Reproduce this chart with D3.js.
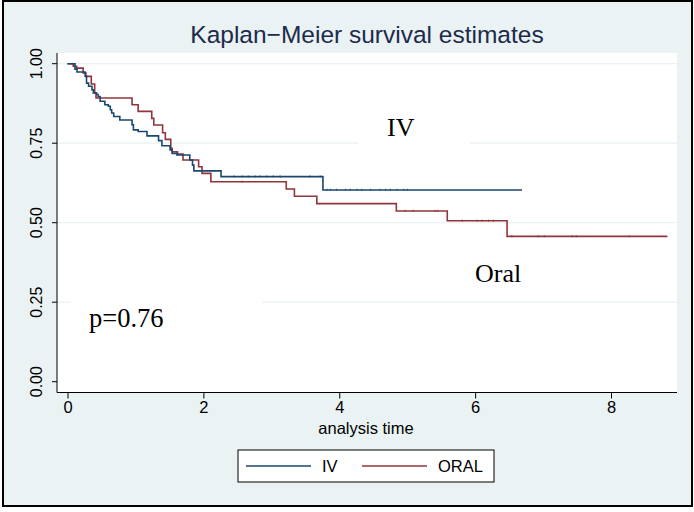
<!DOCTYPE html>
<html>
<head>
<meta charset="utf-8">
<title>Kaplan-Meier</title>
<script src="https://cdn.jsdelivr.net/npm/d3@7"></script>
<style>
  body { margin: 0; background: #fff; }
</style>
</head>
<body>
<svg width="694" height="512"></svg>
<script>
// step drop times and survival after each drop
var ivTimes = [0.11, 0.14, 0.26, 0.28, 0.31, 0.36, 0.38, 0.43, 0.45, 0.48, 0.55, 0.60, 0.63, 0.65, 0.68, 0.77, 0.95, 0.97, 1.04, 1.17, 1.34, 1.39, 1.51, 1.54, 1.61, 1.80, 1.84, 1.86, 2.26, 3.76]
var ivSurv  = [0.983, 0.974, 0.961, 0.939, 0.929, 0.918, 0.908, 0.903, 0.897, 0.882, 0.871, 0.866, 0.855, 0.845, 0.834, 0.823, 0.808, 0.792, 0.787, 0.773, 0.758, 0.742, 0.729, 0.718, 0.713, 0.697, 0.681, 0.663, 0.645, 0.603]
var ivEnd = 6.69
var ivCensor = [2.45, 2.57, 2.66, 2.76, 2.83, 2.93, 3.03, 3.13, 3.57, 3.72, 3.82, 3.87, 3.96, 4.09, 4.16, 4.26, 4.33, 4.46, 4.60, 4.68, 4.75, 4.85, 4.95, 5.00]

var oralTimes = [0.085, 0.135, 0.23, 0.27, 0.35, 0.40, 0.42, 0.95, 1.04, 1.24, 1.27, 1.40, 1.44, 1.52, 1.54, 1.62, 1.70, 1.93, 1.98, 2.11, 3.22, 3.34, 3.67, 4.84, 5.59, 6.47]
var oralSurv  = [0.992, 0.986, 0.971, 0.960, 0.936, 0.908, 0.892, 0.871, 0.850, 0.828, 0.807, 0.783, 0.762, 0.734, 0.723, 0.716, 0.697, 0.676, 0.655, 0.629, 0.606, 0.583, 0.560, 0.537, 0.506, 0.457]
var oralEnd = 8.83
var oralCensor = [2.57, 4.97, 5.09, 5.41, 5.45, 5.81, 6.03, 6.10, 6.20, 6.27, 6.54, 6.93, 7.02, 7.43, 7.49, 8.27]

var xTicks = [0, 2, 4, 6, 8]
var yTicks = [0, 0.25, 0.5, 0.75, 1]
var gridTicks = [0.25, 0.5, 0.75, 1]

var navy = "#1a476f", maroon = "#90353b"
var sans = "Liberation Sans, Arial, Helvetica, sans-serif"
var serif = "Liberation Serif, Times New Roman, serif"

var svg = d3.select("svg")

// graph region
svg.append("rect")
  .attr("x", 3).attr("y", 1).attr("width", 689).attr("height", 505)
  .attr("fill", "#eaf2f3").attr("stroke", "#000").attr("stroke-width", 2)

// plot region
var plot = {left: 57, top: 53, right: 677, bottom: 392.5}
svg.append("rect")
  .attr("x", plot.left).attr("y", plot.top)
  .attr("width", plot.right - plot.left).attr("height", plot.bottom - plot.top)
  .attr("fill", "#fff")

var x = d3.scaleLinear().domain([0, 8]).range([67.5, 611])
var y = d3.scaleLinear().domain([0, 1]).range([381.7, 63.7])

// gridlines
svg.append("g").selectAll("line")
  .data(gridTicks).enter().append("line")
  .attr("x1", plot.left).attr("x2", plot.right)
  .attr("y1", function(d){ return y(d) }).attr("y2", function(d){ return y(d) })
  .attr("stroke", "#eaf2f3").attr("stroke-width", 1.2)

// white boxes behind the text labels
svg.append("rect").attr("x", 358).attr("y", 108).attr("width", 112).attr("height", 40).attr("fill", "#fff")
svg.append("rect").attr("x", 70).attr("y", 296).attr("width", 192).attr("height", 40).attr("fill", "#fff")

// axes
var xAxis = d3.axisBottom(x).tickValues(xTicks).tickSize(6).tickPadding(3).tickFormat(d3.format("d"))
var gx = svg.append("g").attr("transform", "translate(0," + plot.bottom + ")").call(xAxis)
gx.select(".domain").attr("d", "M" + plot.left + ",0H" + plot.right)
gx.attr("font-size", 16.5).attr("font-family", sans)
gx.selectAll("text").attr("fill", "#000")

var yAxis = d3.axisLeft(y).tickValues(yTicks).tickSize(5).tickFormat(d3.format(".2f"))
var gy = svg.append("g").attr("transform", "translate(" + plot.left + ",0)").call(yAxis)
gy.select(".domain").attr("d", "M0," + plot.top + "V" + plot.bottom)
gy.attr("font-size", 16).attr("font-family", sans)
gy.selectAll("text")
  .attr("fill", "#000")
  .attr("x", null).attr("dy", null)
  .attr("text-anchor", "middle")
  .attr("transform", function(d){ return "translate(-15.5," + y(d) + ") rotate(-90)" })
  .attr("y", 0)
gy.selectAll(".tick").attr("transform", "translate(0,0)")
gy.selectAll(".tick line").attr("y1", function(d){ return y(d) }).attr("y2", function(d){ return y(d) })

// survival curves
function steps(times, surv, end) {
  var pts = [[0, 1]]
  times.forEach(function(t, i){ pts.push([t, surv[i]]) })
  pts.push([end, surv[surv.length - 1]])
  return pts
}
function survAt(times, surv, t) {
  var s = 1
  times.forEach(function(tt, i){ if (tt <= t) s = surv[i] })
  return s
}
var line = d3.line()
  .x(function(d){ return x(d[0]) })
  .y(function(d){ return y(d[1]) })
  .curve(d3.curveStepAfter)

var curves = [
  {times: oralTimes, surv: oralSurv, end: oralEnd, cens: oralCensor, color: maroon},
  {times: ivTimes, surv: ivSurv, end: ivEnd, cens: ivCensor, color: navy}
]
curves.forEach(function(c){
  svg.append("path")
    .attr("d", line(steps(c.times, c.surv, c.end)))
    .attr("fill", "none").attr("stroke", c.color).attr("stroke-width", 1.6)
  // censoring marks, barely raised above the line
  svg.append("g").selectAll("line")
    .data(c.cens).enter().append("line")
    .attr("x1", function(d){ return x(d) }).attr("x2", function(d){ return x(d) })
    .attr("y1", function(d){ return y(survAt(c.times, c.surv, d)) - 1.2 })
    .attr("y2", function(d){ return y(survAt(c.times, c.surv, d)) + 1 })
    .attr("stroke", c.color).attr("stroke-width", 1).attr("opacity", 0.8)
})

// labels inside plot
svg.append("text").attr("x", 387).attr("y", 136)
  .attr("font-family", serif).attr("font-size", 26).text("IV")
svg.append("text").attr("x", 475).attr("y", 282)
  .attr("font-family", serif).attr("font-size", 26).text("Oral")
svg.append("text").attr("x", 89).attr("y", 327)
  .attr("font-family", serif).attr("font-size", 26.5).text("p=0.76")

// title
svg.append("text").attr("x", 367).attr("y", 43).attr("text-anchor", "middle")
  .attr("font-family", sans).attr("font-size", 24.5).attr("fill", "#1c2b4b")
  .text("Kaplan\u2212Meier survival estimates")

// x axis title
svg.append("text").attr("x", 366).attr("y", 434).attr("text-anchor", "middle")
  .attr("font-family", sans).attr("font-size", 16.5).text("analysis time")

// legend
var lg = svg.append("g")
lg.append("rect").attr("x", 238).attr("y", 450).attr("width", 256).attr("height", 32)
  .attr("fill", "#fff").attr("stroke", "#000").attr("stroke-width", 1)
var legendItems = [{name: "IV", color: navy, x: 246}, {name: "ORAL", color: maroon, x: 362}]
legendItems.forEach(function(d){
  lg.append("line").attr("x1", d.x).attr("x2", d.x + 65).attr("y1", 466).attr("y2", 466)
    .attr("stroke", d.color).attr("stroke-width", 1.6)
  lg.append("text").attr("x", d.x + 76).attr("y", 472).attr("font-family", sans)
    .attr("font-size", 16.5).text(d.name)
})
</script>
</body>
</html>
